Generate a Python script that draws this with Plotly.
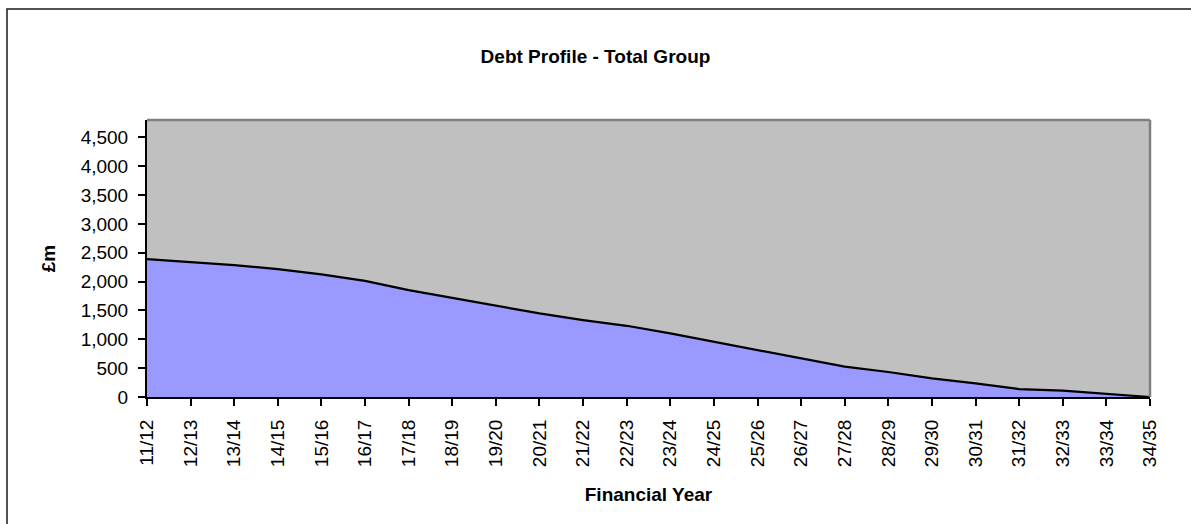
import plotly.graph_objects as go

years = ["11/12", "12/13", "13/14", "14/15", "15/16", "16/17", "17/18", "18/19",
         "19/20", "20/21", "21/22", "22/23", "23/24", "24/25", "25/26", "26/27",
         "27/28", "28/29", "29/30", "30/31", "31/32", "32/33", "33/34", "34/35"]
debt = [2390, 2337, 2285, 2216, 2124, 2013, 1852, 1719,
        1581, 1448, 1333, 1234, 1102, 958, 825, 681,
        525, 433, 323, 237, 138, 110, 52, 0]
y_ticks = [0, 500, 1000, 1500, 2000, 2500, 3000, 3500, 4000, 4500]

FONT = "Arial, Liberation Sans, sans-serif"
W, H = 1191, 524
L, R, T, B = 147, 41, 120, 127
pw, ph = W - L - R, H - T - B

fig = go.Figure()
fig.add_trace(go.Scatter(
    x=years, y=debt, mode="lines", fill="tozeroy",
    fillcolor="#9999FF", line=dict(color="#000000", width=2.2),
    hoverinfo="x+y", showlegend=False,
))

def px_x(p):
    return (p - L) / pw

def px_y(p):
    return (H - B - p) / ph

fig.update_layout(
    width=W, height=H,
    margin=dict(l=L, r=R, t=T, b=B),
    paper_bgcolor="#FFFFFF",
    plot_bgcolor="#C0C0C0",
    font=dict(family=FONT, size=19, color="#000000"),
    title=dict(text="<b>Debt Profile - Total Group</b>", x=0.5, xanchor="center",
               y=1 - 56 / H, yanchor="middle", font=dict(family=FONT, size=19)),
    xaxis=dict(
        type="category", range=[0, len(years) - 1],
        showgrid=False, zeroline=False,
        showline=True, linecolor="#000000", linewidth=2,
        ticks="outside", ticklen=7, tickwidth=1.5, tickcolor="#000000",
        tickangle=-90, ticklabelstandoff=6,
        tickfont=dict(family=FONT, size=19),
        title=dict(text="<b>Financial Year</b>", standoff=22,
                   font=dict(family=FONT, size=19)),
    ),
    yaxis=dict(
        range=[0, 4800], tickvals=y_ticks, tickformat=",",
        showgrid=False, zeroline=False,
        showline=True, linecolor="#000000", linewidth=2,
        ticks="outside", ticklen=7, tickwidth=1.5, tickcolor="#000000",
        ticklabelstandoff=6,
        tickfont=dict(family=FONT, size=19),
        title=dict(text="<b>£m</b>", standoff=20,
                   font=dict(family=FONT, size=19)),
    ),
    shapes=[
        # plot area border (top and right, grey)
        dict(type="line", xref="paper", yref="paper", x0=0, x1=1, y0=1, y1=1,
             line=dict(color="#808080", width=2.5)),
        dict(type="line", xref="paper", yref="paper", x0=1, x1=1, y0=0, y1=1,
             line=dict(color="#808080", width=2.5)),
        # outer chart frame
        dict(type="rect", xref="paper", yref="paper",
             x0=px_x(7), x1=px_x(W + 20), y0=px_y(H + 20), y1=px_y(9),
             line=dict(color="#1a1a1a", width=1.5), layer="above"),
    ],
)

fig.write_html("out.html", config={"displayModeBar": False},
               post_script="document.body.style.margin='0px';document.body.style.overflow='hidden';")
